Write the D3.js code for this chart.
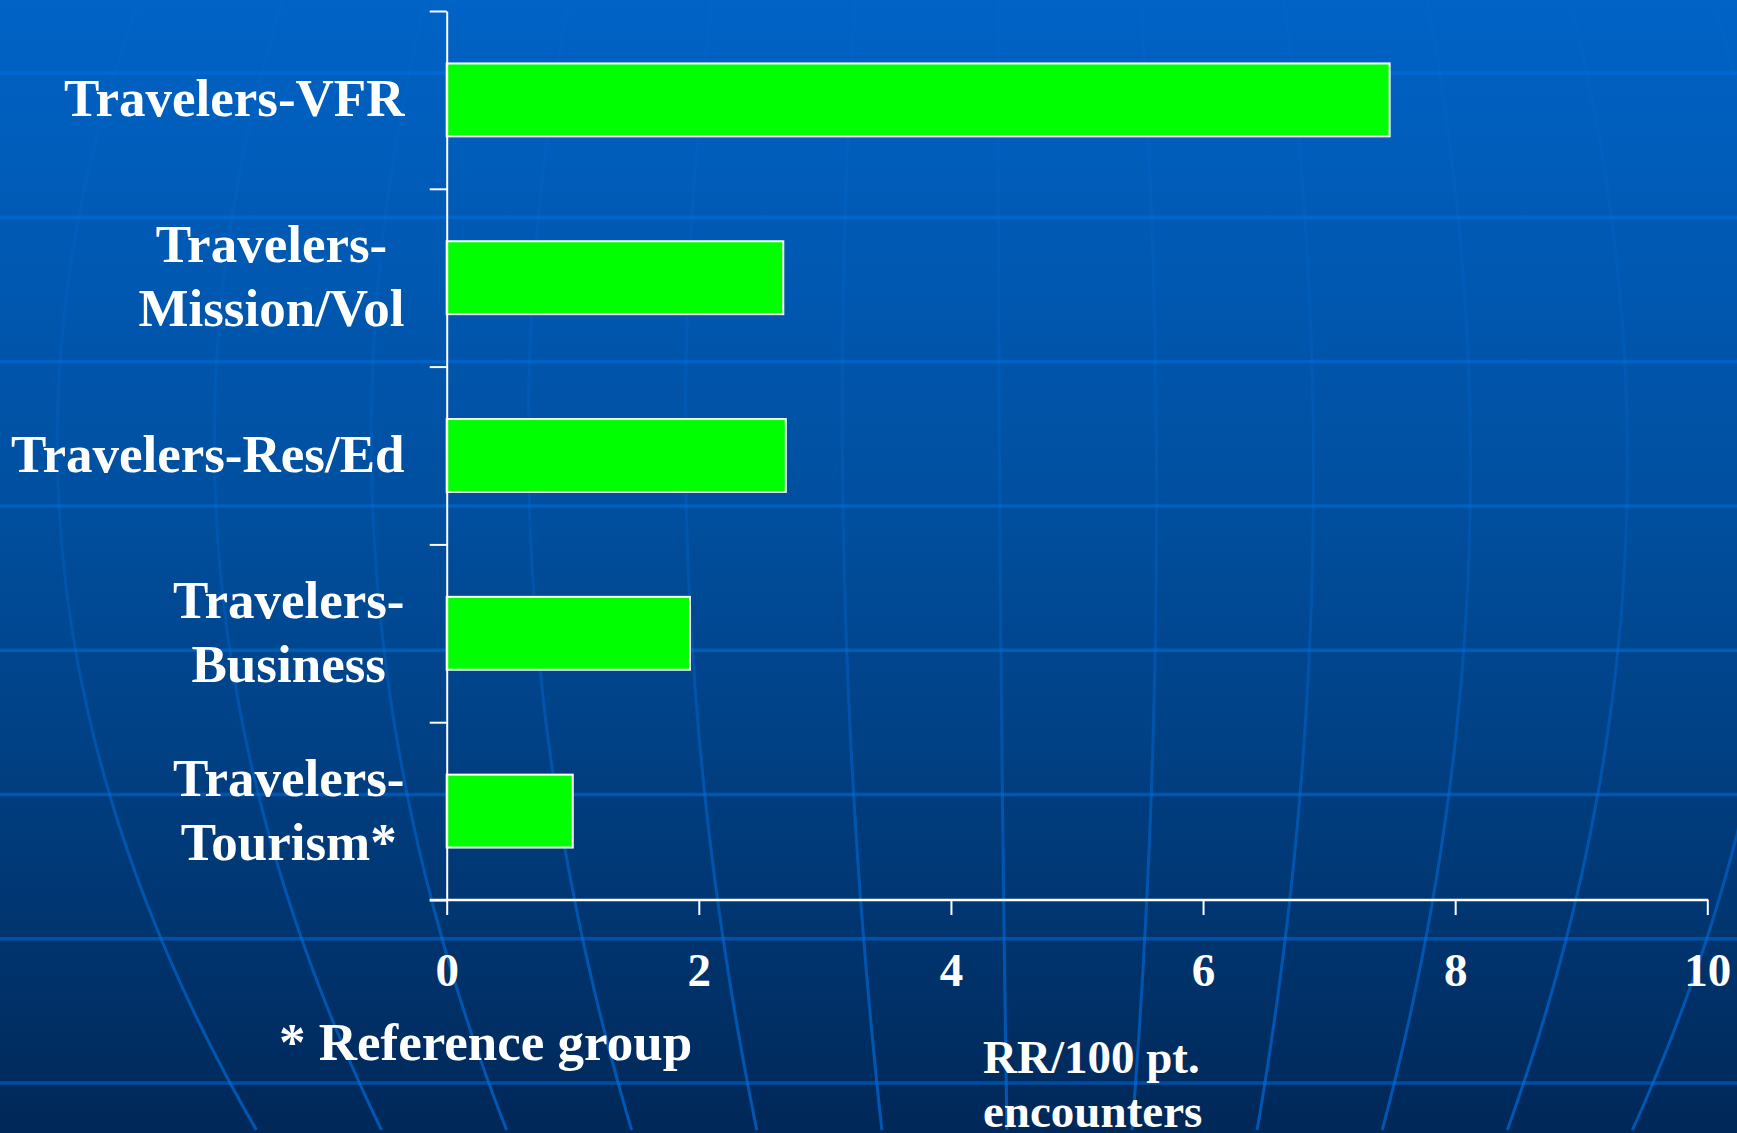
<!DOCTYPE html>
<html>
<head>
<meta charset="utf-8">
<script src="https://cdn.jsdelivr.net/npm/d3@7"></script>
<style>
  html, body { margin: 0; padding: 0; overflow: hidden; background: #00306a; }
  svg { display: block; }
  text { font-family: "Liberation Serif", "Times New Roman", Times, serif; font-weight: bold; fill: #ffffff; }
</style>
</head>
<body>
<svg id="chart" width="1737" height="1133"></svg>
<script>
// Relative risk per 100 patient encounters, by travel purpose
const categories = ["Travelers-VFR", "Travelers-Mission/Vol", "Travelers-Res/Ed", "Travelers-Business", "Travelers-Tourism*"];
const labelLines = [["Travelers-VFR"], ["Travelers-", "Mission/Vol"], ["Travelers-Res/Ed"], ["Travelers-", "Business"], ["Travelers-", "Tourism*"]];
const values = [7.48, 2.67, 2.69, 1.93, 1.0];
const xTicks = [0, 2, 4, 6, 8, 10];
const footnote = "* Reference group";
const xTitleLines = ["RR/100 pt.", "encounters"];

const W = 1737, H = 1133;
const svg = d3.select("#chart");
const defs = svg.append("defs");

// ---- backdrop: deep blue gradient with a faint globe grid ----
const bg = defs.append("linearGradient").attr("id", "bg").attr("x1", 0).attr("y1", 0).attr("x2", 0).attr("y2", 1);
bg.append("stop").attr("offset", 0).attr("stop-color", "#0063c6");
bg.append("stop").attr("offset", 0.45).attr("stop-color", "#004f9f");
bg.append("stop").attr("offset", 1).attr("stop-color", "#002858");
svg.append("rect").attr("width", W).attr("height", H).attr("fill", "url(#bg)");

const mer = defs.append("linearGradient").attr("id", "mer").attr("gradientUnits", "userSpaceOnUse")
  .attr("x1", 0).attr("y1", 0).attr("x2", 0).attr("y2", H);
mer.append("stop").attr("offset", 0).attr("stop-color", "rgb(0,112,228)").attr("stop-opacity", 0.1);
mer.append("stop").attr("offset", 0.5).attr("stop-color", "rgb(0,112,228)").attr("stop-opacity", 0.25);
mer.append("stop").attr("offset", 0.75).attr("stop-color", "rgb(0,112,228)").attr("stop-opacity", 0.5);
mer.append("stop").attr("offset", 1).attr("stop-color", "rgb(0,112,228)").attr("stop-opacity", 0.65);

const grid = svg.append("g");
// parallels
d3.range(8).forEach(k => {
  const y = 73 + 144.3 * k;
  grid.append("line").attr("x1", 0).attr("x2", W).attr("y1", y).attr("y2", y)
    .attr("stroke", "rgb(0,112,228)").attr("stroke-opacity", 0.5).attr("stroke-width", 3.5);
});
// meridians bulging out around the globe's equator
const ys = d3.range(0, H + 1, 10);
const spacing = y => 157 - 6.9e-5 * (y - 450) * (y - 450);
const centre = y => 998 + 9 * (y / H) * (y / H);
const meridian = d3.line().x(d => d[0]).y(d => d[1]).curve(d3.curveBasis);
d3.range(-6, 7).forEach(i => {
  grid.append("path")
    .attr("d", meridian(ys.map(y => [centre(y) + i * spacing(y), y])))
    .attr("fill", "none").attr("stroke", "url(#mer)").attr("stroke-width", 3);
});

// ---- chart ----
const x0 = 446.7, x1 = 1707.3, yTop = 11, yBot = 900;
const x = d3.scaleLinear().domain([0, 10]).range([x0, x1]);
const y = d3.scaleBand().domain(categories).range([yTop, yBot]).paddingInner(0.59).paddingOuter(0.295);
const yEdges = d3.scaleLinear().domain([0, categories.length]).range([yTop, yBot]);

// bars
svg.append("g").selectAll("rect").data(values).join("rect")
  .attr("x", x(0))
  .attr("y", (d, i) => y(categories[i]))
  .attr("width", d => x(d) - x(0))
  .attr("height", y.bandwidth())
  .attr("fill", "#00ff00")
  .attr("stroke", "#ffffff")
  .attr("stroke-width", 2);

// y axis: ticks mark the boundaries between categories
const yAxis = svg.append("g").attr("transform", `translate(${x0},0)`)
  .call(d3.axisLeft(yEdges).ticks(categories.length).tickSize(17).tickSizeOuter(0).tickFormat(""));
yAxis.selectAll("path, line").attr("stroke", "#ffffff").attr("stroke-width", 2);

// x axis
const xAxis = svg.append("g").attr("transform", `translate(0,${yBot})`)
  .call(d3.axisBottom(x).tickValues(xTicks).tickSize(15).tickSizeOuter(0).tickFormat(d3.format("d")));
xAxis.select(".domain").remove();
xAxis.selectAll("line").attr("stroke", "#ffffff").attr("stroke-width", 2);
xAxis.append("line").attr("x1", x0 - 17).attr("x2", x1 + 1).attr("y1", 0).attr("y2", 0)
  .attr("stroke", "#ffffff").attr("stroke-width", 2.5);
xAxis.selectAll(".tick text")
  .attr("y", 86).attr("dy", 0)
  .style("font-family", '"Liberation Serif", "Times New Roman", serif')
  .style("font-weight", "bold").style("font-size", "47px").attr("fill", "#ffffff");

// category labels: each block is centred, its widest line ending near the axis
const labelRight = 404.5, lineGap = 64;
const lg = svg.append("g").style("font-size", "53px");
labelLines.forEach((lines, i) => {
  const cy = y(categories[i]) + y.bandwidth() / 2 + 16.5;
  const g = lg.append("g");
  const texts = lines.map((t, j) =>
    g.append("text").text(t).attr("y", cy + (j - (lines.length - 1) / 2) * lineGap)
  );
  const maxW = d3.max(texts, t => t.node().getComputedTextLength());
  texts.forEach(t => t.attr("x", labelRight - maxW / 2).attr("text-anchor", "middle"));
});

// footnote and x axis title
svg.append("text").attr("x", 279).attr("y", 1060).style("font-size", "53px").text(footnote);
svg.append("g").style("font-size", "47px").selectAll("text").data(xTitleLines).join("text")
  .attr("x", 983).attr("y", (d, i) => 1073 + i * 54).text(d => d);
</script>
</body>
</html>
